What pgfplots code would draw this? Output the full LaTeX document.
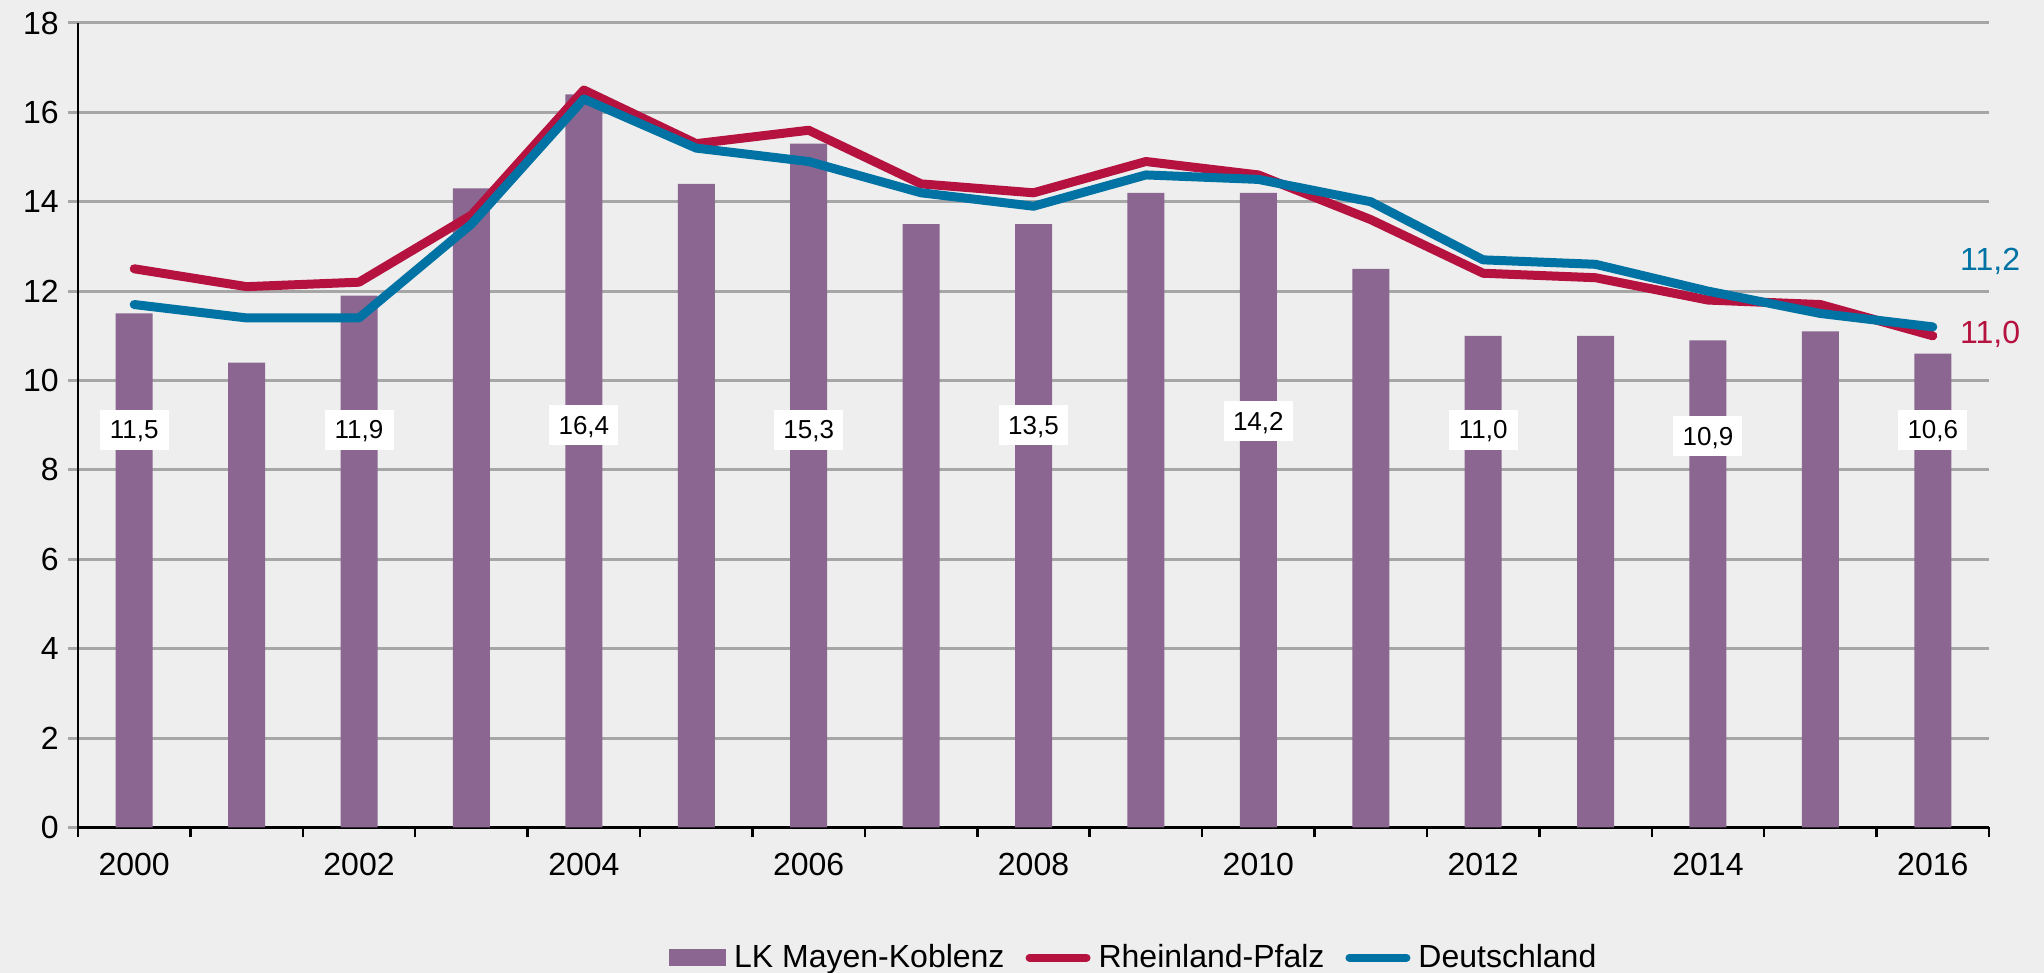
\documentclass[border=0pt]{standalone}
\usepackage{fontspec}
\setmainfont{Liberation Sans}
\usepackage{pgfplots}
\pgfplotsset{compat=1.18}
\usepackage{pgfplotstable}
\definecolor{bg}{HTML}{EEEEEE}
\definecolor{gridgray}{HTML}{A6A6A6}
\definecolor{barpurple}{HTML}{8A6690}
\definecolor{rpred}{HTML}{B5123F}
\definecolor{deblue}{HTML}{0073A4}
\pgfplotstableread{
x bar rp de
0 11.5 12.5 11.7
1 10.4 12.1 11.4
2 11.9 12.2 11.4
3 14.3 13.7 13.5
4 16.4 16.5 16.3
5 14.4 15.3 15.2
6 15.3 15.6 14.9
7 13.5 14.4 14.2
8 13.5 14.2 13.9
9 14.2 14.9 14.6
10 14.2 14.6 14.5
11 12.5 13.6 14.0
12 11.0 12.4 12.7
13 11.0 12.3 12.6
14 10.9 11.8 12.0
15 11.1 11.7 11.5
16 10.6 11.0 11.2
}\datatable
\pgfplotstableread{
x y label
0 8.9 11,5
2 8.9 11,9
4 9.0 16,4
6 8.9 15,3
8 9.0 13,5
10 9.1 14,2
12 8.9 11,0
14 8.75 10,9
16 8.9 10,6
}\labeltable
\begin{document}
\begin{tikzpicture}
\fill[bg] (0,0) rectangle (1022pt,486.5pt);
\begin{axis}[
  at={(39pt,72.8pt)}, anchor=south west,
  scale only axis, width=955.5pt, height=402.2pt,
  xmin=-0.5, xmax=16.5, ymin=0, ymax=18,
  clip=false,
  axis x line*=bottom, axis y line*=left,
  x axis line style={line width=1.75pt, -},
  y axis line style={line width=0.6pt, -},
  ytick={0,2,...,18},
  ymajorgrids, grid style={color=gridgray, line width=1.5pt},
  tick align=outside,
  major tick length=5pt,
  ytick style={color=gridgray, line width=1.5pt},
  xtick={0,2,...,16},
  xticklabels={2000,2002,2004,2006,2008,2010,2012,2014,2016},
  xtick style={draw=none},
  extra x ticks={-0.5,0.5,...,16.5},
  extra x tick labels={},
  extra x tick style={xtick style={draw=black, line width=1.25pt}, grid=none},
  /pgf/number format/assume math mode=true,
  tick label style={font=\fontsize{16}{19}\selectfont},
  yticklabel style={anchor=east, inner sep=0pt, xshift=-4.5pt},
  xticklabel style={anchor=north, inner sep=0pt, yshift=-7.8pt},
  legend style={at={(0.553,-0.162)}, anchor=center, draw=none, fill=none,
    font=\fontsize{16}{19}\selectfont, inner sep=0pt,
    /tikz/every even column/.append style={column sep=8.5pt},
    /tikz/every odd column/.append style={column sep=2pt}},
  legend columns=-1,
  legend cell align=left,
]
\addplot[ybar, bar width=18.5pt, fill=barpurple, draw=none,
  legend image code/.code={\fill[barpurple] (0pt,-4.25pt) rectangle (28.5pt,4.25pt);}]
  table[x=x, y=bar] {\datatable};
\addlegendentry{LK Mayen-Koblenz}
\addplot[color=rpred, line width=4.5pt, line cap=round, line join=round, mark=none,
  legend image code/.code={\draw[rpred, line width=4pt, line cap=round] (2pt,0pt) -- (30.5pt,0pt);}]
  table[x=x, y=rp] {\datatable};
\addlegendentry{Rheinland-Pfalz}
\addplot[color=deblue, line width=4.5pt, line cap=round, line join=round, mark=none,
  legend image code/.code={\draw[deblue, line width=4pt, line cap=round] (2pt,0pt) -- (30.5pt,0pt);}]
  table[x=x, y=de] {\datatable};
\addlegendentry{Deutschland}
\addplot[draw=none, mark=none, forget plot,
  nodes near coords, point meta=explicit symbolic,
  every node near coord/.append style={anchor=center, fill=white, text=black,
    font=\fontsize{13}{15}\selectfont, inner sep=0pt,
    minimum width=34.5pt, minimum height=20pt, text height=9.3pt, text depth=0pt}]
  table[x=x, y=y, meta=label] {\labeltable};
\node[anchor=west, text=deblue, font=\fontsize{16}{19}\selectfont, inner sep=0pt] at (axis cs:16.24,12.66) {11,2};
\node[anchor=west, text=rpred, font=\fontsize{16}{19}\selectfont, inner sep=0pt] at (axis cs:16.24,11.03) {11,0};
\end{axis}
\pgfresetboundingbox
\useasboundingbox (0,0) rectangle (1022pt,486.5pt);
\end{tikzpicture}
\end{document}
